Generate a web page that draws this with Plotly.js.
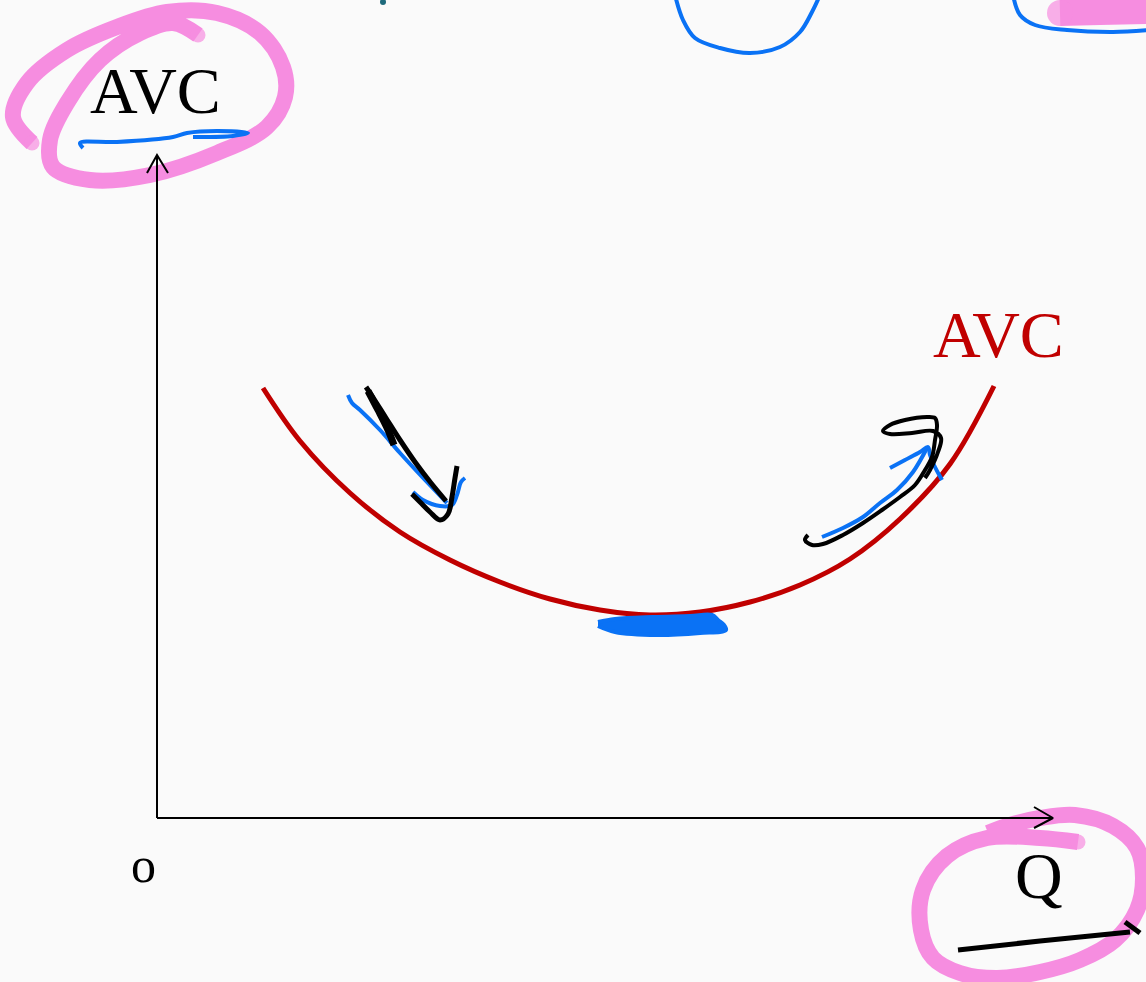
<!DOCTYPE html>
<html>
<head>
<meta charset="utf-8">
<script src="https://cdn.plot.ly/plotly-3.0.1.min.js"></script>
<style>
  html, body { margin: 0; padding: 0; background: #fafafa; }
  #chart { width: 1146px; height: 982px; }
</style>
</head>
<body>
<div id="chart"></div>
<script>
// origin of the Q / AVC axes on the slide (screen pixels)
const ORIGIN_X = 157;
const ORIGIN_Y = 818;

// AVC curve (Q, AVC in slide units above the origin)
const curveQ   = [106, 143, 193, 243, 293, 343, 393, 443, 493, 543, 593, 643, 693, 743, 793, 837];
const curveAVC = [430, 377, 325, 286, 258, 236, 219, 208, 203, 206, 216, 233, 259, 299, 354, 432];

// axis arrows
const yAxisX = [0, 0, null, -10, 0, 11];
const yAxisY = [0, 663, null, 645, 663, 645];
const xAxisX = [0, 896, null, 877, 896, 877];
const xAxisY = [0, 0, null, 11, 0, -10];

// labels
const labelTexts = ['AVC', 'AVC', 'o', 'Q'];
const labelQ     = [-2, 841, -14, 882];
const labelAVC   = [728, 484, -47, -57];
const labelColors = ['#000000', '#c00000', '#000000', '#000000'];

// hand-drawn ink on top of the slide (screen pixels)
const pinkAvcX = [32, 13, 27, 67, 117, 167, 217, 260, 283, 285, 267, 217, 150, 90, 53, 50, 67, 100, 140, 173, 198];
const pinkAvcY = [143, 117, 83, 50, 27, 12, 13, 33, 67, 97, 127, 153, 175, 180, 167, 140, 103, 60, 33, 23, 35];
const pinkQX = [1078, 1040, 987, 947, 923, 921, 933, 960, 997, 1040, 1080, 1115, 1137, 1143, 1137, 1113, 1075, 1040, 1010, 988];
const pinkQY = [842, 838, 838, 856, 890, 930, 958, 973, 978, 972, 960, 940, 910, 878, 848, 826, 815, 818, 825, 833];
const pinkTopX = [1060, 1100, 1150];
const pinkTopY = [13, 12, 11];
const pinkDotX = [32, 198, 1078, 1060];
const pinkDotY = [143, 35, 842, 13];
const pinkDotSize = [15, 15, 15, 26];

const blueUnderX = [83, 80, 117, 173, 187, 217, 248, 233, 193];
const blueUnderY = [148, 143, 142, 137, 133, 131, 133, 136, 137];
const blueTopX = [675, 683, 695, 720, 750, 780, 800, 812, 820];
const blueTopY = [-5, 20, 38, 48, 53, 47, 32, 12, -5];
const blueTopRightX = [1013, 1020, 1035, 1067, 1113, 1150];
const blueTopRightY = [-5, 15, 25, 30, 32, 30];
const blueLeftX = [348, 352, 360, 380, 400, 425, 447, null, 413, 423, 440, 452, 457, 461, 465];
const blueLeftY = [395, 403, 410, 430, 453, 480, 503, null, 492, 500, 506, 505, 495, 482, 478];
const blueRightX = [822, 843, 863, 880, 897, 913, 927, null, 890, 905, 920, 928, 930, 934, 942];
const blueRightY = [537, 528, 517, 503, 490, 472, 448, null, 468, 460, 452, 447, 455, 465, 480];
const blueBlobX = [598, 615, 653, 690, 712, 718, 724, 726, 700, 657, 615, 598];
const blueBlobY = [622, 619, 617, 616, 615, 620, 625, 630, 633, 635, 632, 626];

const blackLeftX = [366, 374, 386, 400, 415, 431, 446, null, 412, 420, 430, 440, 448, 452, 455, 457];
const blackLeftY = [387, 399, 418, 440, 462, 483, 501, null, 494, 502, 512, 520, 514, 497, 478, 466];
const blackThickX = [368, 378, 388, 394];
const blackThickY = [391, 410, 430, 445];
const blackRightX = [808, 805, 812, 823, 843, 863, 882, 900, 915, 925, 932, 935, 937, 935, 927, 905, 890, 883, 890, 912, 933, 941, 938, 930, 925];
const blackRightY = [535, 540, 545, 544, 535, 523, 510, 497, 485, 470, 457, 440, 425, 418, 417, 420, 425, 431, 434, 433, 431, 438, 452, 470, 478];
const blackUnderQX = [958, 1040, 1130, null, 1125, 1140];
const blackUnderQY = [950, 941, 932, null, 922, 933];

const tealDotX = [383];
const tealDotY = [2];

const toQ = (px) => px.map(v => v === null ? null : v - ORIGIN_X);
const toAVC = (py) => py.map(v => v === null ? null : ORIGIN_Y - v);

function ink(xs, ys, color, width) {
  return {
    x: toQ(xs), y: toAVC(ys),
    mode: 'lines', type: 'scatter',
    line: { color: color, width: width, shape: 'spline' },
    hoverinfo: 'skip'
  };
}

const PINK = '#f68de0';
const BLUE = '#0a72f5';

var blob = ink(blueBlobX, blueBlobY, BLUE, 4);
blob.fill = 'toself';
blob.fillcolor = BLUE;

var data = [
  ink(pinkAvcX, pinkAvcY, PINK, 16),
  ink(pinkQX, pinkQY, PINK, 16),
  ink(blueTopX, blueTopY, BLUE, 4),
  ink(blueTopRightX, blueTopRightY, BLUE, 4),
  ink(pinkTopX, pinkTopY, PINK, 26),
  {
    x: toQ(pinkDotX), y: toAVC(pinkDotY), mode: 'markers', type: 'scatter',
    marker: { color: PINK, size: pinkDotSize, line: { width: 0 } }, hoverinfo: 'skip'
  },
  {
    x: yAxisX, y: yAxisY, mode: 'lines', type: 'scatter',
    line: { color: '#000000', width: 2 }, hoverinfo: 'skip'
  },
  {
    x: xAxisX, y: xAxisY, mode: 'lines', type: 'scatter',
    line: { color: '#000000', width: 2 }, hoverinfo: 'skip'
  },
  {
    x: curveQ, y: curveAVC, mode: 'lines', type: 'scatter',
    line: { color: '#c00000', width: 5, shape: 'spline' }, name: 'AVC'
  },
  ink(blueUnderX, blueUnderY, BLUE, 4),
  ink(blueLeftX, blueLeftY, BLUE, 4),
  ink(blueRightX, blueRightY, BLUE, 4),
  blob,
  ink(blackLeftX, blackLeftY, '#000000', 5),
  ink(blackThickX, blackThickY, '#000000', 7),
  ink(blackRightX, blackRightY, '#000000', 4),
  ink(blackUnderQX, blackUnderQY, '#000000', 5),
  {
    x: toQ(tealDotX), y: toAVC(tealDotY), mode: 'markers', type: 'scatter',
    marker: { color: '#1e6a7c', size: 6 }, hoverinfo: 'skip'
  }
];

var annotations = labelTexts.map((t, i) => ({
  x: labelQ[i], y: labelAVC[i], xref: 'x', yref: 'y',
  text: t, showarrow: false,
  xanchor: 'center', yanchor: 'middle',
  font: { family: 'Liberation Serif, DejaVu Serif, serif', size: i === 2 ? 50 : 66, color: labelColors[i] }
}));

var layout = {
  width: 1146,
  height: 982,
  margin: { l: 0, r: 0, t: 0, b: 0 },
  paper_bgcolor: '#fafafa',
  plot_bgcolor: '#fafafa',
  showlegend: false,
  xaxis: { range: [-ORIGIN_X, 1146 - ORIGIN_X], visible: false, fixedrange: true },
  yaxis: { range: [ORIGIN_Y - 982, ORIGIN_Y], visible: false, fixedrange: true },
  annotations: annotations
};

Plotly.newPlot('chart', data, layout, { displayModeBar: false, staticPlot: true });
</script>
</body>
</html>
